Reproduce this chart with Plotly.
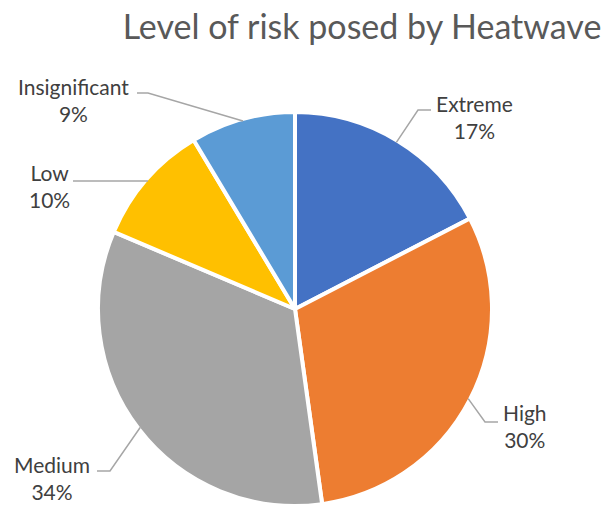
import math
import plotly.graph_objects as go

# ---- data (shares; labels show rounded %) ----
categories = ["Extreme", "High", "Medium", "Low", "Insignificant"]
values = [17.4, 30.4, 33.6, 10.0, 8.6]
colors = ["#4472C4", "#ED7D31", "#A5A5A5", "#FFC000", "#5B9BD5"]
title_text = "Level of risk posed by Heatwave"

# ---- layout constants (pixels) ----
W, H = 608, 506
CX, CY, R = 295, 309, 197          # pie centre / radius in page pixels
# label placement: (elbow x, elbow y, line end x, text centre x, text centre y)
label_layout = {
    "Extreme":       (418, 110, 431, 474, 117),
    "High":          (485, 422, 498, 525, 426),
    "Medium":        (110, 471, 97, 52, 478),
    "Low":           (None, None, 73, 49, 186),
    "Insignificant": (148, 93, 137, 73, 100),
}

def px(x):
    return x / W

def py(y):
    return min(1.0, max(0.0, 1 - y / H))

fig = go.Figure(go.Pie(
    labels=categories,
    values=values,
    sort=False,
    direction="clockwise",
    rotation=0,
    marker=dict(colors=colors, line=dict(color="white", width=4)),
    textinfo="none",
    hoverinfo="label+percent",
    domain=dict(x=[px(CX - R), px(CX + R)], y=[py(CY + R), py(CY - R)]),
    showlegend=False,
))

total = sum(values)
cum = 0
shapes = []
annotations = []
for cat, v in zip(categories, values):
    mid = (cum + v / 2) / total * 2 * math.pi
    cum += v
    sx = CX + (R - 2) * math.sin(mid)
    sy = CY - (R - 2) * math.cos(mid)
    ex, ey, lx, tx, ty = label_layout[cat]
    if ex is None:
        ex, ey = sx, sy
    path = f"M {sx / W} {1 - sy / H} L {ex / W} {1 - ey / H} L {lx / W} {1 - ey / H}"
    shapes.append(dict(type="path", xref="paper", yref="paper", path=path,
                       line=dict(color="#A6A6A6", width=1.5)))
    pct = round(v / total * 100)
    annotations.append(dict(
        x=tx / W, y=1 - ty / H, xref="paper", yref="paper",
        text=f"{cat}<br>{pct}%", showarrow=False,
        xanchor="center", yanchor="middle", align="center",
        font=dict(family="Lato, Open Sans, sans-serif", size=21, color="#404040"),
    ))

fig.update_layout(
    width=W, height=H,
    margin=dict(l=0, r=0, t=0, b=0),
    paper_bgcolor="white",
    plot_bgcolor="white",
    title=dict(text=title_text, x=362 / W, xanchor="center",
               y=1 - 27 / H, yanchor="middle", yref="container",
               font=dict(family="Lato, Open Sans, sans-serif", size=34, color="#595959")),
    shapes=shapes,
    annotations=annotations,
)

fig.write_html("out.html",
               config={"displayModeBar": False},
               post_script="document.body.style.margin='0';document.body.style.overflow='hidden';")
